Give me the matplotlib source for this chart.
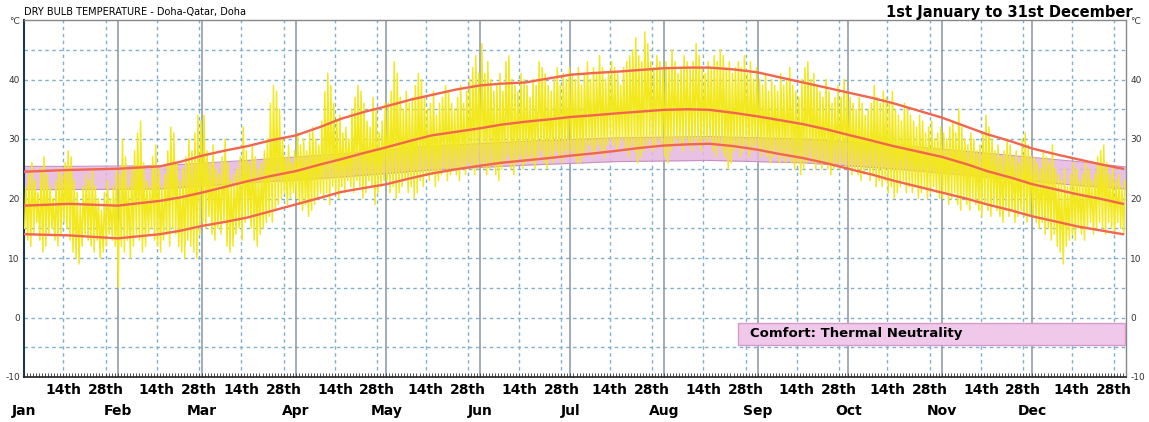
import numpy as np
import matplotlib
matplotlib.use("Agg")
import matplotlib.pyplot as plt
from matplotlib.patches import Rectangle
from matplotlib.ticker import MultipleLocator
import matplotlib.transforms as mtransforms

# daily max / min dry bulb temperature (deg C), month by month
jan_max = [22,24,26,23,21,25,27,24,22,20,23,25,24,26,28,27,23,21,19,22,24,23,25,22,20,18,21,23,20,22,25]
jan_min = [15,13,12,14,16,13,11,12,14,15,13,12,14,16,15,13,11,10,9,12,14,13,12,11,13,10,11,12,14,13,12]
feb_max = [24,30,27,22,25,28,31,33,26,23,22,27,29,25,22,24,28,32,31,26,23,25,27,30,28,31,34,33]
feb_min = [5,12,11,13,10,12,14,13,11,12,14,15,13,12,11,13,14,12,15,14,12,11,10,13,12,11,10,14]
mar_max = [34,28,26,29,25,24,27,30,26,23,24,25,27,32,28,26,29,27,25,26,28,30,36,39,38,35,30,27,29,26,28]
mar_min = [16,15,17,14,13,15,14,16,12,11,12,14,15,13,16,17,15,13,12,14,15,16,17,16,18,19,20,21,19,20,21]
apr_max = [31,29,30,28,31,32,30,29,33,38,41,39,36,33,34,31,32,30,35,37,39,38,36,33,32,37,35,31,33,36]
apr_min = [20,19,18,19,17,18,19,20,21,20,21,19,22,21,20,22,21,23,22,21,23,22,20,21,23,22,19,21,22,23]
may_max = [36,38,43,41,37,35,38,36,37,39,41,40,37,35,36,38,34,36,37,39,38,36,35,37,39,36,38,40,42,44,41]
may_min = [23,21,22,20,21,22,23,21,22,20,21,23,22,24,23,24,22,23,24,25,23,24,25,24,23,25,24,26,25,24,25]
jun_max = [46,41,43,40,38,39,41,38,43,44,40,39,38,41,40,39,37,40,39,43,42,41,39,38,40,42,39,41,40,42]
jun_min = [26,25,24,25,26,24,23,25,26,27,25,24,26,27,25,26,27,26,25,27,28,26,25,27,26,28,27,26,28,27]
jul_max = [41,40,42,39,41,43,40,42,41,44,42,40,41,43,42,41,39,42,43,44,45,47,44,43,48,46,43,42,44,43,42]
jul_min = [28,27,26,26,27,28,29,27,28,29,28,27,29,30,29,28,29,30,28,27,29,28,26,27,28,29,30,28,29,30,29]
aug_max = [43,42,45,43,41,42,44,43,42,43,46,44,42,41,43,42,44,43,45,44,42,43,41,42,43,42,44,41,43,40,42]
aug_min = [27,26,28,29,30,29,28,30,29,28,30,29,28,30,29,30,28,27,29,28,27,25,26,28,29,27,28,29,27,28,29]
sep_max = [40,39,41,38,40,39,38,41,39,40,42,39,38,37,40,42,43,40,41,39,38,37,40,38,36,37,39,37,40,38]
sep_min = [28,27,28,27,26,27,28,26,27,26,27,26,25,26,24,25,26,27,26,25,26,25,26,25,24,25,26,25,26,25]
oct_max = [37,36,35,37,36,34,35,36,39,37,36,38,37,36,38,35,34,33,36,35,34,33,32,34,33,31,32,33,30,31,32]
oct_min = [25,24,25,24,23,24,25,23,24,22,23,22,23,21,22,20,21,22,23,21,22,21,22,20,21,22,20,21,22,21,20]
nov_max = [31,30,32,33,31,35,32,30,29,31,30,28,29,31,34,32,30,28,29,27,28,30,29,27,28,26,30,31,29,27]
nov_min = [20,21,19,20,21,19,18,20,19,18,20,19,18,17,19,18,17,19,18,17,16,18,17,18,16,17,18,17,16,17]
dec_max = [27,26,25,28,27,26,29,25,24,23,25,22,24,26,25,23,24,26,25,23,24,27,28,29,26,24,25,23,24,22,23]
dec_min = [17,16,15,16,14,15,13,14,12,11,9,12,13,14,13,15,14,13,15,16,14,15,16,15,14,16,15,14,16,15,14]

# smoothed curves (red lines): mean max, mean, mean min
curve_days = [0,15,31,45,52,59,67,74,82,90,98,105,113,120,128,135,143,151,158,166,174,181,189,196,204,212,220,227,235,243,250,258,266,273,281,288,296,304,312,319,327,334,342,349,357,364]
mean_max = [24.5,24.8,25.0,25.4,26.2,27.2,28.1,28.8,29.8,30.6,32.0,33.4,34.6,35.5,36.6,37.4,38.3,39.0,39.3,39.5,40.2,40.8,41.1,41.3,41.6,41.9,42.0,42.0,41.7,41.2,40.4,39.5,38.6,37.8,36.9,36.0,34.8,33.6,32.1,30.8,29.6,28.4,27.4,26.6,25.7,25.0]
mean_avg = [18.8,19.1,18.8,19.6,20.2,21.0,22.0,22.9,23.8,24.6,25.7,26.6,27.7,28.6,29.7,30.6,31.2,31.8,32.4,32.9,33.3,33.7,34.0,34.3,34.6,34.9,35.0,34.9,34.4,33.8,33.2,32.5,31.6,30.7,29.7,28.8,27.9,27.0,25.8,24.6,23.5,22.4,21.5,20.7,19.9,19.1]
mean_min = [14.0,13.8,13.3,14.0,14.6,15.4,16.1,16.8,17.9,19.0,20.1,21.1,21.8,22.4,23.4,24.2,24.9,25.5,26.0,26.4,26.8,27.2,27.6,28.0,28.5,28.9,29.1,29.2,28.8,28.2,27.5,26.8,25.9,25.0,24.0,23.0,22.0,21.0,20.0,19.0,18.0,17.0,16.1,15.3,14.6,14.0]

# comfort band (thermal neutrality), per month
band_days = [0,15,45,74,105,135,166,196,227,258,288,319,349,365]
band_low = [21.5,21.5,21.6,22.6,23.6,24.8,25.6,26.2,26.4,26.0,25.0,23.6,22.2,21.6]
band_high = [25.4,25.4,25.5,26.4,27.5,28.8,29.6,30.2,30.4,30.0,29.0,27.6,26.2,25.3]

month_names = ["Jan","Feb","Mar","Apr","May","Jun","Jul","Aug","Sep","Oct","Nov","Dec"]
month_start = [0,31,59,90,120,151,181,212,243,273,304,334]

daily_max = np.array(jan_max+feb_max+mar_max+apr_max+may_max+jun_max+jul_max+aug_max+sep_max+oct_max+nov_max+dec_max, float)
daily_min = np.array(jan_min+feb_min+mar_min+apr_min+may_min+jun_min+jul_min+aug_min+sep_min+oct_min+nov_min+dec_min, float)
days = np.arange(len(daily_max))
# zigzag: min early morning, max in the afternoon
hx = np.column_stack([days+0.25, days+0.62]).ravel()
hy = np.column_stack([daily_min, daily_max]).ravel()

W, H = 1149, 422
fig = plt.figure(figsize=(W/100, H/100), dpi=100)
ax = fig.add_axes([24/W, 1-377/H, 1102/W, 357/H])
ax.set_xlim(0, 365)
ax.set_ylim(-10, 50)

grid_c = "#7fb1cf"
dash = (0, (2.5, 2.5))
for v in range(-5, 50, 5):
    ax.axhline(v, color=grid_c, lw=1, ls=dash, zorder=1)
for s in month_start:
    ax.axvline(s+13, color=grid_c, lw=1, ls=dash, zorder=1)
    ax.axvline(s+27, color=grid_c, lw=1, ls=dash, zorder=1)
for s in month_start[1:]:
    ax.axvline(s, color="#8a96a2", lw=1.1, zorder=1.5)

ax.fill_between(band_days, band_low, band_high, color="#e6b8df", alpha=0.85, lw=0, zorder=2)
ax.plot(band_days, band_low, color="#c890c2", lw=0.8, zorder=2)
ax.plot(band_days, band_high, color="#c890c2", lw=0.8, zorder=2)

ax.plot(hx, hy, color="#f2e81c", lw=1.1, zorder=3)

for c in (mean_max, mean_avg, mean_min):
    ax.plot(curve_days, c, color="#f2654f", lw=1.7, zorder=4)

# legend box
ax.add_patch(Rectangle((236.5, -4.6), 128.3, 3.7, facecolor="#f0c9ea", edgecolor="#d69bce", lw=1, zorder=5))
ax.text(240.5, -2.75, "Comfort: Thermal Neutrality", fontsize=9.5, fontweight="bold", va="center", zorder=6)

# axes frame
for side in ("top", "right"):
    ax.spines[side].set_color("#888888")
    ax.spines[side].set_linewidth(1)
ax.spines["left"].set_color("#1d3a4c")
ax.spines["left"].set_linewidth(1.5)
ax.spines["bottom"].set_color("#222222")
ax.spines["bottom"].set_linewidth(1.2)

ax.set_xticks([])
ax.xaxis.set_minor_locator(MultipleLocator(1))
ax.tick_params(axis="x", which="minor", direction="in", length=3, width=0.6, color="#333333")
ax.set_yticks(range(-10, 51, 10))
ax.set_yticklabels([str(v) for v in range(-10, 50, 10)] + ["°C"])
ax.tick_params(axis="y", length=0, labelsize=6.5, labelcolor="#333333", pad=3,
               left=True, right=True, labelleft=True, labelright=True)

trans = mtransforms.blended_transform_factory(ax.transData, ax.transAxes)
for s, name in zip(month_start, month_names):
    ax.text(s, -0.095, name, transform=trans, ha="center", va="center", fontsize=10, fontweight="bold")
    ax.text(s+13, -0.036, "14th", transform=trans, ha="center", va="center", fontsize=10, fontweight="bold")
    ax.text(s+27, -0.036, "28th", transform=trans, ha="center", va="center", fontsize=10, fontweight="bold")

fig.text(24/W, 1-12/H, "DRY BULB TEMPERATURE - Doha-Qatar, Doha", fontsize=7, va="center")
fig.text(1133/W, 1-12/H, "1st January to 31st December", fontsize=10.5, fontweight="bold", ha="right", va="center")

fig.savefig("out.png", dpi=100)
